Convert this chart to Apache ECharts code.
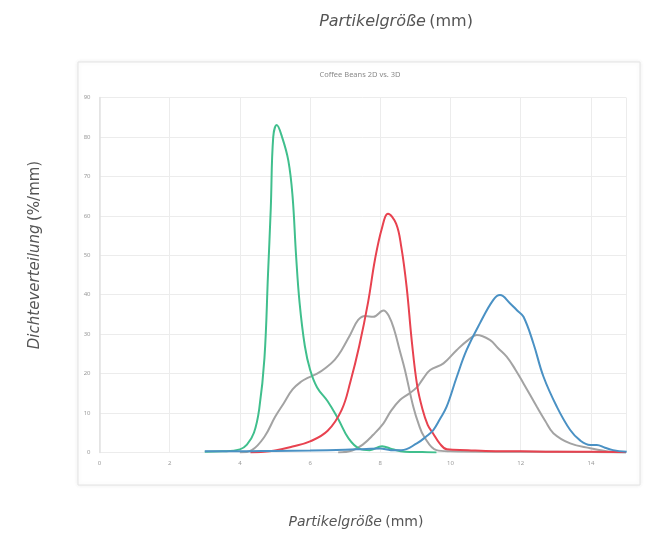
<!DOCTYPE html>
<html>
<head>
<meta charset="utf-8">
<script src="https://cdn.jsdelivr.net/npm/echarts@6/dist/echarts.min.js"></script>
<style>
  html, body { margin: 0; padding: 0; background: #fff; }
  #chart { width: 655px; height: 533px; }
</style>
</head>
<body>
<div id="chart"></div>
<script>
// Partikelgröße (mm) -> Dichteverteilung (%/mm)
const greenX = [3.0, 3.5, 4.0, 4.2, 4.4, 4.55, 4.7, 4.8, 4.88, 4.95, 5.05, 5.2, 5.38, 5.5, 5.6, 5.7, 5.85, 6.0, 6.2, 6.5, 6.8, 7.1, 7.4, 7.7, 8.05, 8.35, 8.7, 9.2, 9.6]
const greenY = [0.2, 0.3, 0.8, 2, 5, 11, 24, 45, 62, 80, 83, 80, 74, 65, 50, 38, 27, 21, 16.5, 13, 8.5, 3.5, 1, 0.6, 1.6, 0.8, 0.2, 0.1, 0]

const redX = [4.3, 5.0, 5.5, 6.0, 6.5, 6.9, 7.15, 7.4, 7.65, 7.85, 8.05, 8.22, 8.45, 8.6, 8.75, 8.9, 9.05, 9.2, 9.35, 9.5, 9.7, 9.9, 10.5, 11, 12, 13, 14, 15]
const redY = [0, 0.5, 1.5, 2.8, 5.5, 10.8, 18, 27, 38, 49, 57, 60.5, 58, 52, 42, 28, 17, 11, 7, 4.9, 2.2, 0.8, 0.6, 0.4, 0.3, 0.2, 0.2, 0.1]

const grey1X = [4.0, 4.34, 4.7, 5.0, 5.25, 5.5, 5.75, 5.95, 6.2, 6.45, 6.7, 6.9, 7.15, 7.37, 7.57, 7.8, 8.09, 8.25, 8.4, 8.55, 8.7, 8.94, 9.1, 9.25, 9.6, 10, 11, 12, 13, 14, 15]
const grey1Y = [0, 0.6, 4, 9, 12.5, 16, 18, 19, 20, 21.5, 23.5, 26, 30, 33.6, 34.6, 34.4, 36, 34.5, 31, 26, 21, 11.6, 7, 4, 0.6, 0.3, 0.2, 0.2, 0.2, 0.1, 0]

const grey2X = [6.8, 7.2, 7.5, 7.8, 8.09, 8.3, 8.56, 8.8, 9.04, 9.2, 9.42, 9.8, 10.18, 10.5, 10.75, 11.13, 11.35, 11.6, 11.85, 12.08, 12.46, 12.7, 12.93, 13.41, 13.98, 14.55, 15]
const grey2Y = [0, 0.5, 2, 4.5, 7.4, 10.5, 13.3, 14.8, 16.5, 18.5, 20.9, 22.6, 26, 28.5, 29.8, 28.5, 26.5, 24.3, 21, 17.5, 11.6, 8, 4.9, 2.3, 1.1, 0.2, 0]

const blueX = [3.0, 4, 5, 6, 7, 7.6, 8.0, 8.3, 8.6, 9.04, 9.3, 9.51, 9.7, 9.89, 10.18, 10.46, 10.84, 11.22, 11.41, 11.7, 11.9, 12.08, 12.36, 12.65, 13.03, 13.41, 13.7, 13.98, 14.17, 14.4, 14.63, 15.02]
const blueY = [0.3, 0.3, 0.4, 0.5, 0.7, 0.9, 1.0, 0.6, 0.6, 2.3, 4, 5.7, 8.5, 11.6, 19.2, 26, 32.8, 38.7, 39.9, 37.8, 36, 34.4, 27.7, 19.2, 11.6, 5.7, 3, 1.9, 1.9, 1.2, 0.6, 0.2]

const xTicks = [0, 2, 4, 6, 8, 10, 12, 14]
const yTicks = [0, 10, 20, 30, 40, 50, 60, 70, 80, 90]

const zip = (xs, ys) => xs.map((x, i) => [x, ys[i]])

const chart = echarts.init(document.getElementById('chart'))

// einheitlicher Linienstil
const line = (name, xs, ys, color) => ({
  name,
  type: 'line',
  data: zip(xs, ys),
  smooth: 0.4,
  showSymbol: false,
  lineStyle: { color, width: 2 },
  itemStyle: { color }
})

const font = '"Noto Sans", sans-serif'
const labelFont = '"DejaVu Sans", sans-serif'

// Achsentitel: kursiver Teil + Einheit
const richLabel = size => ({
  i: { fontStyle: 'italic', fontSize: size, fill: '#555', fontFamily: labelFont },
  n: { fontSize: size, fill: '#555', fontFamily: labelFont }
})

const option = {
  animation: false,
  backgroundColor: '#fff',
  grid: { left: 99.5, right: 29, top: 97.5, bottom: 80.5 },
  graphic: [
    {
      type: 'rect',
      z: -10,
      shape: { x: 78, y: 62, width: 562, height: 423 },
      style: { fill: '#fff', stroke: '#e4e4e4', lineWidth: 1, shadowBlur: 4, shadowColor: 'rgba(0,0,0,0.08)' }
    },
    {
      type: 'text',
      x: 360,
      y: 75,
      style: { text: 'Coffee Beans 2D vs. 3D', align: 'center', verticalAlign: 'middle', fontSize: 7.5, fill: '#8a8a8a', fontFamily: font }
    },
    {
      type: 'text',
      x: 396,
      y: 22,
      style: { text: '{i|Partikelgröße} {n|(mm)}', align: 'center', verticalAlign: 'middle', rich: richLabel(16) }
    },
    {
      type: 'text',
      x: 356,
      y: 522,
      style: { text: '{i|Partikelgröße} {n|(mm)}', align: 'center', verticalAlign: 'middle', rich: richLabel(14) }
    },
    {
      type: 'text',
      x: 35,
      y: 255,
      rotation: Math.PI / 2,
      style: { text: '{i|Dichteverteilung} {n|(%/mm)}', align: 'center', verticalAlign: 'middle', rich: richLabel(15) }
    }
  ],
  xAxis: {
    type: 'value',
    min: 0,
    max: 15,
    interval: 2,
    axisLine: { show: false },
    axisTick: { show: false },
    axisLabel: {
      showMaxLabel: false,
      margin: 8,
      fontSize: 6,
      color: '#9a9a9a',
      fontFamily: font,
      formatter: v => (xTicks.includes(v) ? String(v) : '')
    },
    splitLine: { lineStyle: { color: '#ececec', width: 1 } }
  },
  yAxis: {
    type: 'value',
    min: 0,
    max: 90,
    interval: 10,
    axisLine: { show: true, lineStyle: { color: '#e2e2e2', width: 1.5 } },
    axisTick: { show: false },
    axisLabel: {
      margin: 9,
      fontSize: 6,
      color: '#9a9a9a',
      fontFamily: font,
      formatter: v => (yTicks.includes(v) ? String(v) : '')
    },
    splitLine: { lineStyle: { color: '#ececec', width: 1 } }
  },
  series: [
    line('grey 1', grey1X, grey1Y, '#a3a3a3'),
    line('grey 2', grey2X, grey2Y, '#a3a3a3'),
    line('green', greenX, greenY, '#40bf8d'),
    line('red', redX, redY, '#e8424f'),
    line('blue', blueX, blueY, '#4a91c4')
  ]
}

chart.setOption(option)
</script>
</body>
</html>
